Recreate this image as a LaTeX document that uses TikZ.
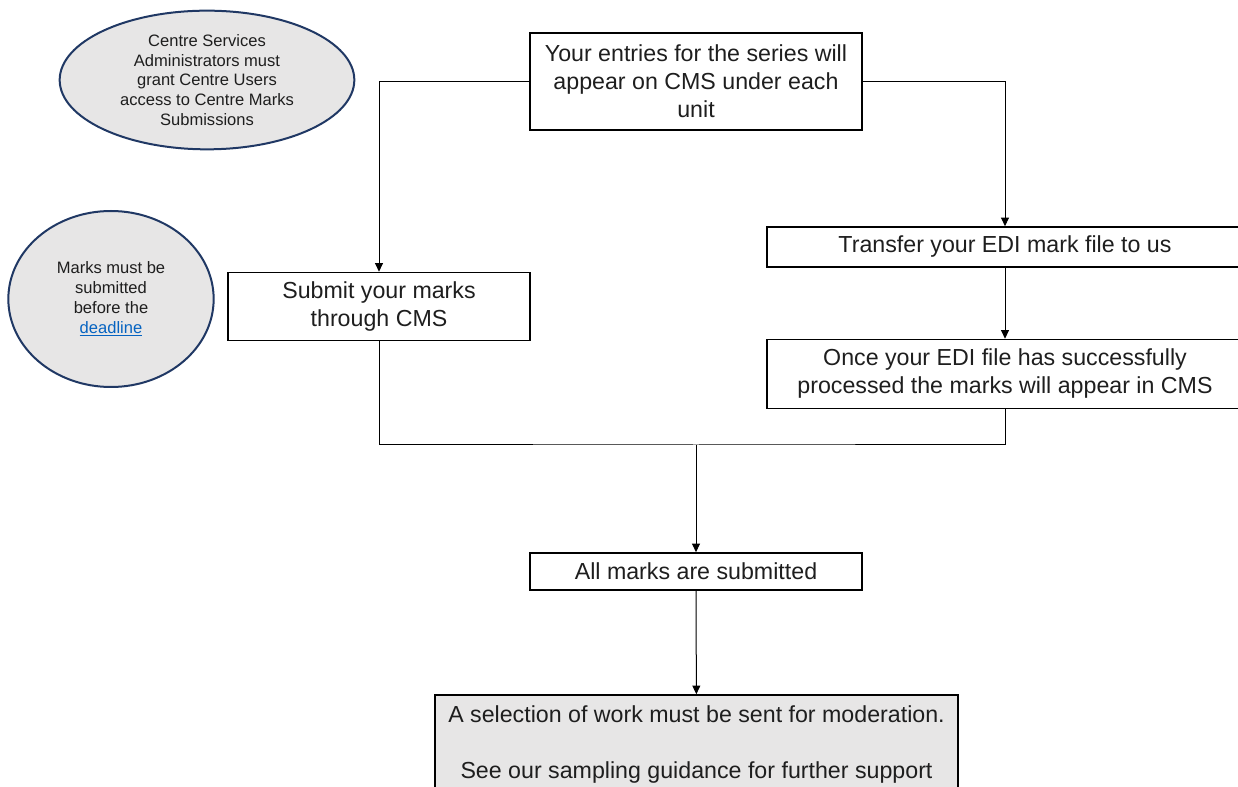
\documentclass[tikz,border=0pt]{standalone}
\usepackage{fontspec}
\setmainfont{Liberation Sans}
\usetikzlibrary{shapes.geometric,arrows.meta}

\definecolor{boxgrey}{HTML}{E7E6E6}
\definecolor{ringblue}{HTML}{203864}
\definecolor{linkblue}{HTML}{0563C1}
\definecolor{inkgrey}{HTML}{1E1E1E}

\tikzset{
  stepbox/.style={draw, line width=1.2pt, rectangle, align=center, inner sep=0pt,
    text=inkgrey, font=\fontsize{17.4}{21}\selectfont},
  notebubble/.style={draw=ringblue, line width=1.5pt, ellipse, fill=boxgrey, align=center,
    inner sep=0pt, text=inkgrey, font=\fontsize{12.4}{14.9}\selectfont},
  flow/.style={-{Triangle[length=6.5pt,width=6pt]}, line width=0.75pt}
}

\begin{document}
\begin{tikzpicture}[x=0.75pt, y=-0.75pt]
    % Page frame
    \clip (0,0) rectangle (1238,787);

    % Notes on the left
    \node[notebubble, minimum width=221pt, minimum height=104pt] (access) at (207,80) {Centre Services\\Administrators must\\grant Centre Users\\access to Centre Marks\\Submissions};
    \node[notebubble, minimum width=154pt, minimum height=132pt] (deadline) at (111,299) {Marks must be\\submitted\\before the\\\textcolor{linkblue}{\underline{deadline}}};

    % Entries box
    \node[stepbox, minimum width=249pt, minimum height=72.75pt] (entries) at (696,81.5) {Your entries for the series will\\appear on CMS under each\\unit};

    % Two routes
    \node[stepbox, minimum width=226.5pt, minimum height=51pt] (submit) at (379,306.5) {Submit your marks\\through CMS};
    \node[stepbox, minimum width=357pt, minimum height=30pt] (transfer) at (1005,247) {Transfer your EDI mark file to us};
    \node[stepbox, minimum width=357pt, minimum height=51.75pt] (processed) at (1005,374) {Once your EDI file has successfully\\processed the marks will appear in CMS};

    % Arrows to the routes
    \draw[flow] (entries.west) -| (submit.north);
    \draw[flow] (entries.east) -| (transfer.north);
    \draw[flow] (transfer) -- (processed);

    % All marks
    \node[stepbox, minimum width=249pt, minimum height=27.75pt] (allmarks) at (696,571.5) {All marks are submitted};

    % Routes join
    \coordinate (merge) at (696,445);
    \draw[line width=0.75pt] (submit.south) |- (merge) -| (processed.south);
    \draw[flow] (merge) -- (allmarks);

    % Moderation
    \node[stepbox, fill=boxgrey, minimum width=392pt, minimum height=74.25pt] (moderation) at (696.5,744.5) {A selection of work must be sent for moderation.\\ \\See our sampling guidance for further support};
    \draw[flow] (allmarks) -- (moderation);
\end{tikzpicture}
\end{document}
